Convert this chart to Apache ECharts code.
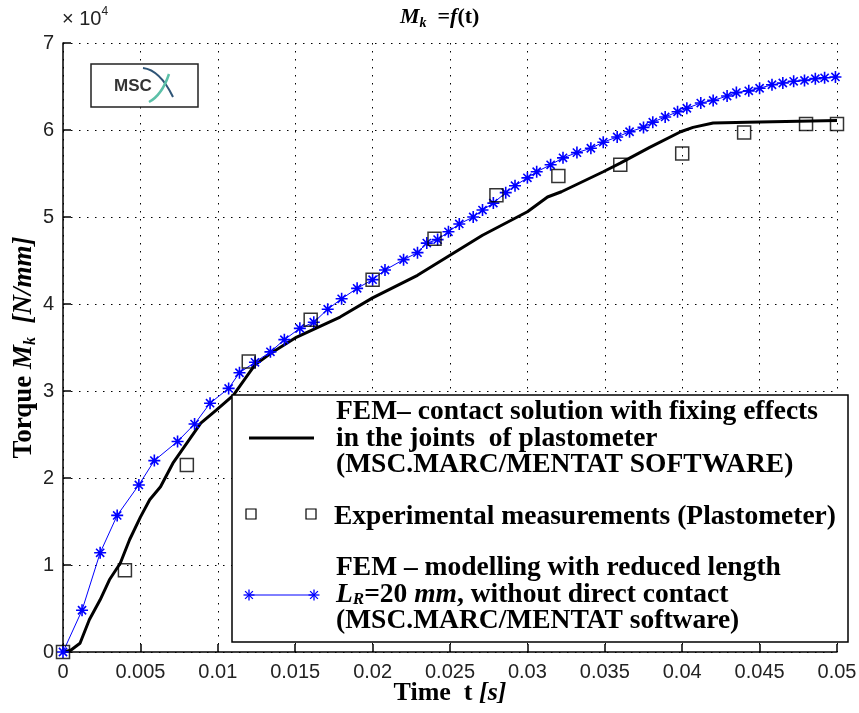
<!DOCTYPE html>
<html><head><meta charset="utf-8">
<script src="https://cdn.jsdelivr.net/npm/echarts@6/dist/echarts.min.js"></script>
<style>html,body{margin:0;padding:0;background:#fff}#c{width:859px;height:713px}</style>
</head><body><div id="c"></div>
<script>
// ---- data (time in s, torque in N·mm) ----
const tFemContact = [0, 0.0005, 0.0011, 0.0017, 0.0024, 0.0030, 0.0037, 0.0043, 0.0050, 0.0056, 0.0063, 0.0071, 0.0080, 0.0089, 0.0099, 0.0110, 0.0118, 0.0124, 0.0134, 0.0151, 0.0179, 0.0200, 0.0229, 0.0250, 0.0271, 0.0300, 0.0313, 0.0322, 0.0349, 0.0360, 0.0379, 0.0399, 0.0407, 0.0420, 0.0442, 0.0500];
const mFemContact = [0, 200, 1000, 3700, 6000, 8300, 10200, 12900, 15500, 17500, 19000, 21700, 24000, 26300, 27800, 29500, 31500, 33000, 34300, 36200, 38500, 40700, 43300, 45600, 47900, 50600, 52300, 52900, 55200, 56200, 58000, 59800, 60300, 60800, 60900, 61100];

const tExperimental = [0, 0.004, 0.008, 0.012, 0.016, 0.020, 0.024, 0.028, 0.032, 0.036, 0.040, 0.044, 0.048, 0.050];
const mExperimental = [0, 9400, 21500, 33400, 38200, 42800, 47500, 52500, 54700, 56000, 57300, 59700, 60700, 60700];

const tFemReduced = [0, 0.00123, 0.0024, 0.0035, 0.0049, 0.0059, 0.0074, 0.0085, 0.0095, 0.0107, 0.0114, 0.0124, 0.0134, 0.0143, 0.0153, 0.0162, 0.0171, 0.0180, 0.0190, 0.0200, 0.0208, 0.0220, 0.0229, 0.0235, 0.0242, 0.0249, 0.0256, 0.0265, 0.0271, 0.0278, 0.0286, 0.0292, 0.0300, 0.0306, 0.0315, 0.0323, 0.0332, 0.0341, 0.0349, 0.0358, 0.0366, 0.0375, 0.0381, 0.0389, 0.0397, 0.0403, 0.0412, 0.0420, 0.0429, 0.0435, 0.0443, 0.0450, 0.0458, 0.0465, 0.0472, 0.0479, 0.0486, 0.0492, 0.0499];
const mFemReduced = [0, 4800, 11400, 15700, 19200, 22000, 24200, 26200, 28600, 30300, 32100, 33300, 34500, 35900, 37200, 37900, 39400, 40600, 41800, 42800, 43900, 45100, 45900, 47000, 47400, 48300, 49200, 50000, 50800, 51600, 52800, 53600, 54500, 55200, 56000, 56800, 57400, 57900, 58600, 59200, 59800, 60300, 60900, 61500, 62100, 62500, 63100, 63400, 63900, 64300, 64500, 64800, 65200, 65400, 65600, 65700, 65900, 66000, 66100];

const xTickLabels = ['0', '0.005', '0.01', '0.015', '0.02', '0.025', '0.03', '0.035', '0.04', '0.045', '0.05'];
const yTickLabels = ['0', '1', '2', '3', '4', '5', '6', '7'];

const seriesNames = ['FEM contact solution', 'Experimental measurements (Plastometer)', 'FEM modelling with reduced length'];

// ---- build ----
const zip = (a, b) => a.map((v, i) => [v, b[i]]);
const SERIF = '"Liberation Serif", "Times New Roman", serif';
const SANS = '"Liberation Sans", Arial, sans-serif';
const STAR = 'path://M5,0L5,10M0,5L10,5M1.6,1.6L8.4,8.4M8.4,1.6L1.6,8.4';
const BLUE = '#0000ff';

function star(cx, cy, r) {
  const d = r * 0.707;
  return [[cx - r, cy, cx + r, cy], [cx, cy - r, cx, cy + r], [cx - d, cy - d, cx + d, cy + d], [cx + d, cy - d, cx - d, cy + d]]
    .map(p => ({ type: 'line', z: 101, shape: { x1: p[0], y1: p[1], x2: p[2], y2: p[3] }, style: { stroke: BLUE, lineWidth: 1.3 } }));
}

// zrender rich styles (graphic elements)
const bold = { font: 'bold 27.5px ' + SERIF, fill: '#000', lineHeight: 26.5 };
const ital = { font: 'italic bold 27.5px ' + SERIF, fill: '#000', lineHeight: 26.5 };
const sub = { font: 'italic bold 17px ' + SERIF, fill: '#000', lineHeight: 26.5, verticalAlign: 'bottom' };

// echarts rich styles
const rs = (size, italic, extra) => Object.assign({ fontFamily: SERIF, fontSize: size, fontWeight: 'bold', fontStyle: italic ? 'italic' : 'normal', color: '#000' }, extra || {});

const chart = echarts.init(document.getElementById('c'), null, { renderer: 'canvas' });
chart.setOption({
  animation: false,
  backgroundColor: '#fff',
  title: {
    text: '{m|M}{k|k}{e|  =}{f|f}{p|(t)}',
    left: 395, top: 0,
    textStyle: {
      rich: {
        m: rs(22, true, { lineHeight: 25 }),
        k: rs(14, true, { verticalAlign: 'bottom', lineHeight: 25 }),
        e: rs(22, false, { lineHeight: 25 }),
        f: rs(22, true, { lineHeight: 25 }),
        p: rs(22, false, { lineHeight: 25 })
      }
    }
  },
  grid: { left: 63, right: 22, top: 43, bottom: 61, containLabel: false, outerBoundsMode: 'none' },
  xAxis: {
    type: 'value', min: 0, max: 0.05, interval: 0.005,
    name: '{b|Time  t }{i|[s]}',
    nameLocation: 'middle', nameGap: 28, nameMoveOverlap: false,
    nameTextStyle: { rich: { b: rs(26, false, { lineHeight: 26 }), i: rs(26, true, { lineHeight: 26 }) } },
    axisLine: { onZero: false, lineStyle: { color: '#000', width: 1.5 } },
    axisTick: { inside: true, length: 8, lineStyle: { color: '#000', width: 1.5 } },
    axisLabel: { fontFamily: SANS, fontSize: 20, color: '#222', margin: 10,
      formatter: v => xTickLabels[Math.round(v / 0.005)] },
    splitLine: { show: true, lineStyle: { color: '#000', width: 1, type: [1.5, 6.5] } }
  },
  yAxis: {
    type: 'value', min: 0, max: 70000, interval: 10000,
    name: '{b|Torque }{i|M}{s|k}{b|  }{i|[N/mm]}',
    nameLocation: 'middle', nameRotate: 90, nameGap: 24, nameMoveOverlap: false,
    nameTextStyle: { rich: {
      b: rs(27, false, { lineHeight: 30 }),
      i: rs(27, true, { lineHeight: 30 }),
      s: rs(16, true, { verticalAlign: 'bottom', lineHeight: 30 })
    } },
    axisLine: { onZero: false, lineStyle: { color: '#000', width: 1.5 } },
    axisTick: { inside: true, length: 8, lineStyle: { color: '#000', width: 1.5 } },
    axisLabel: { fontFamily: SANS, fontSize: 20, color: '#222', margin: 9,
      formatter: v => yTickLabels[Math.round(v / 10000)] },
    splitLine: { show: true, lineStyle: { color: '#000', width: 1, type: [1.5, 6.5] } }
  },
  series: [
    {
      name: seriesNames[0], type: 'line', data: zip(tFemContact, mFemContact),
      showSymbol: false, symbol: 'none', z: 2,
      lineStyle: { color: '#000', width: 3 }
    },
    {
      name: seriesNames[2], type: 'line', data: zip(tFemReduced, mFemReduced),
      symbol: STAR, symbolSize: 12, showAllSymbol: true, z: 3,
      lineStyle: { color: BLUE, width: 1 },
      itemStyle: { color: BLUE, borderColor: BLUE, borderWidth: 1.6 }
    },
    {
      name: seriesNames[1], type: 'scatter', data: zip(tExperimental, mExperimental),
      symbol: 'rect', symbolSize: 13, z: 4,
      itemStyle: { color: 'rgba(0,0,0,0)', borderColor: '#000', borderWidth: 1.5 }
    }
  ],
  graphic: [
    // x10^4 exponent
    { type: 'text', x: 62, y: 6, z: 50, style: { text: '{a|\u00d7 10}{b|4}', rich: {
      a: { font: '20px ' + SANS, fill: '#222' }, b: { font: '12px ' + SANS, fill: '#222', verticalAlign: 'top', lineHeight: 26 } } } },
    // MSC logo
    { type: 'rect', z: 50, shape: { x: 91, y: 64, width: 107, height: 43 }, style: { fill: '#fff', stroke: '#222', lineWidth: 1.5 } },
    { type: 'text', z: 51, x: 114, y: 86, style: { text: 'MSC', font: 'bold 17px "Liberation Sans Narrow", ' + SANS, fill: '#333', textVerticalAlign: 'middle' } },
    { type: 'bezierCurve', z: 52, shape: { x1: 143, y1: 68, x2: 173, y2: 97, cpx1: 160, cpy1: 70 }, style: { stroke: '#2f5577', lineWidth: 2, fill: null } },
    { type: 'bezierCurve', z: 52, shape: { x1: 149, y1: 102, x2: 169, y2: 74, cpx1: 162, cpy1: 95 }, style: { stroke: '#5cc0a8', lineWidth: 2.5, fill: null } },
    // legend box
    { type: 'rect', z: 100, shape: { x: 232, y: 395, width: 616, height: 247 }, style: { fill: '#fff', stroke: '#000', lineWidth: 1.5 } },
    { type: 'line', z: 101, shape: { x1: 249, y1: 438, x2: 314, y2: 438 }, style: { stroke: '#000', lineWidth: 3 } },
    { type: 'text', z: 101, x: 336, y: 399, style: { text: '{b|FEM\u2013 contact solution with fixing effects}\n{b|in the joints  of plastometer}\n{b|(MSC.MARC/MENTAT SOFTWARE)}', rich: { b: bold } } },
    { type: 'rect', z: 101, shape: { x: 246, y: 509, width: 10, height: 10 }, style: { fill: 'none', stroke: '#000', lineWidth: 1.2 } },
    { type: 'rect', z: 101, shape: { x: 306, y: 509, width: 10, height: 10 }, style: { fill: 'none', stroke: '#000', lineWidth: 1.2 } },
    { type: 'text', z: 101, x: 334, y: 504, style: { text: '{b|Experimental measurements (Plastometer)}', rich: { b: bold } } },
    { type: 'line', z: 101, shape: { x1: 249, y1: 595, x2: 314, y2: 595 }, style: { stroke: BLUE, lineWidth: 1 } },
    ...star(249, 595, 5.5), ...star(314, 595, 5.5),
    { type: 'text', z: 101, x: 336, y: 555, style: { text: '{b|FEM \u2013 modelling with reduced length}\n{i|L}{s|R}{b|=20 }{i|mm}{b|, without direct contact}\n{b|(MSC.MARC/MENTAT software)}', rich: { b: bold, i: ital, s: sub } } }
  ]
});
</script>
</body></html>
